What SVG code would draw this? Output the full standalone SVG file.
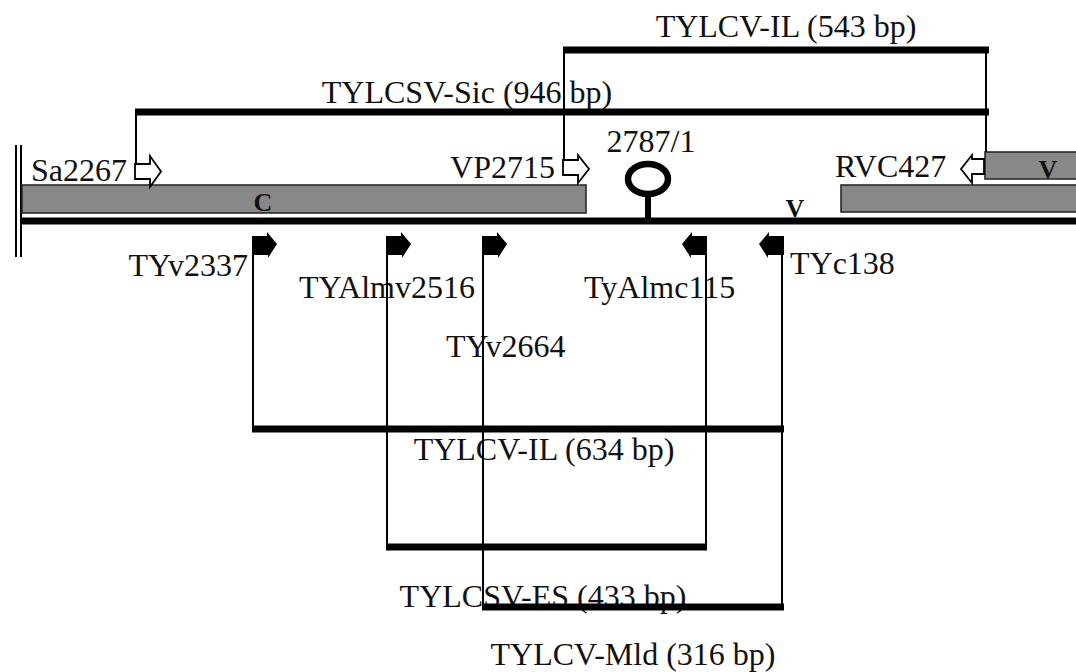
<svg xmlns="http://www.w3.org/2000/svg" width="1076" height="672" viewBox="0 0 1076 672">
<style>
text{font-family:"Liberation Serif","Times New Roman",serif;fill:#111;}
.lbl{font-size:32px;}
.big{font-size:32px;}
.gene{font-size:26px;font-weight:bold;}
.bar{fill:#888;stroke:#2a2a2a;stroke-width:1.6;}
.thin{stroke:#000;stroke-width:2;fill:none;}
.thick{stroke:#000;stroke-width:7;fill:none;}
.hollow{fill:#fff;stroke:#000;stroke-width:1.8;stroke-linejoin:miter;}
.solid{fill:#000;}
</style>
<rect width="1076" height="672" fill="#fff"/>
<g id="genome">
  <line x1="16" y1="145" x2="16" y2="257" class="thin" stroke-width="2.5"/>
  <line x1="21" y1="145" x2="21" y2="257" class="thin" stroke-width="2.5"/>
  <rect x="22" y="185" width="564" height="28" class="bar"/>
  <text x="263" y="211" class="gene" text-anchor="middle">C</text>
  <rect x="841" y="185" width="240" height="27" class="bar"/>
  <rect x="985" y="152" width="96" height="27" class="bar"/>
  <text x="1048" y="178" class="gene" text-anchor="middle">V</text>
  <line x1="22" y1="221" x2="1076" y2="221" class="thick"/>
  <text x="795" y="217" class="gene" text-anchor="middle">V</text>
</g>
<g id="stemloop">
  <ellipse cx="648" cy="179" rx="20" ry="15" fill="none" stroke="#000" stroke-width="6.5"/>
  <line x1="648" y1="194" x2="648" y2="219" stroke="#000" stroke-width="6"/>
  <text x="651" y="152" class="lbl" text-anchor="middle">2787/1</text>
</g>
<g id="Sa2267">
  <path d="M135,164 H150 V156 L161,171.5 L150,187 V179 H135 Z" class="hollow"/>
  <text x="31" y="181" class="lbl">Sa2267</text>
</g>
<g id="VP2715">
  <path d="M563,160 H578 V155 L589,169 L578,183 V175 H563 Z" class="hollow"/>
  <text x="555" y="178" class="lbl" text-anchor="end">VP2715</text>
</g>
<g id="RVC427">
  <path d="M984,159 H972 V155 L961,169 L972,183 V174 H984 Z" class="hollow"/>
  <text x="835" y="177" class="lbl">RVC427</text>
</g>
<g id="TYv2337">
  <path d="M252,236 H267 V232 L277,244 L268,258 V255 H252 Z" class="solid"/>
  <text x="248" y="276" class="lbl" text-anchor="end">TYv2337</text>
</g>
<g id="TYAlmv2516">
  <path d="M386,236 H401 V232 L411,244 L402,258 V255 H386 Z" class="solid"/>
  <text x="299" y="298" class="lbl">TYAlmv2516</text>
</g>
<g id="TYv2664">
  <path d="M482,236 H497 V232 L507,244 L498,258 V255 H482 Z" class="solid"/>
  <text x="446" y="357" class="lbl">TYv2664</text>
</g>
<g id="TyAlmc115">
  <path d="M707,236 H692 V232 L682,244 L691,258 V255 H707 Z" class="solid"/>
  <text x="584" y="298" class="lbl">TyAlmc115</text>
</g>
<g id="TYc138">
  <path d="M784,236 H769 V232 L759,244 L768,258 V255 H784 Z" class="solid"/>
  <text x="790" y="274" class="lbl">TYc138</text>
</g>
<g id="amplicon-labels">
  <text x="786" y="37" class="big" text-anchor="middle">TYLCV-IL (543 bp)</text>
  <text x="467" y="103" class="big" text-anchor="middle">TYLCSV-Sic (946 bp)</text>
  <text x="544" y="460" class="big" text-anchor="middle">TYLCV-IL (634 bp)</text>
  <text x="543" y="607" class="big" text-anchor="middle">TYLCSV-ES (433 bp)</text>
  <text x="633" y="665" class="big" text-anchor="middle">TYLCV-Mld (316 bp)</text>
</g>
<g id="connectors">
  <line x1="564" y1="50" x2="564" y2="161" class="thin"/>
  <line x1="986" y1="50" x2="986" y2="152" class="thin"/>
  <line x1="136" y1="112" x2="136" y2="164" class="thin"/>
  <line x1="253" y1="255" x2="253" y2="429" class="thin"/>
  <line x1="387" y1="255" x2="387" y2="547" class="thin"/>
  <line x1="483" y1="255" x2="483" y2="607" class="thin"/>
  <line x1="706" y1="255" x2="706" y2="547" class="thin"/>
  <line x1="782" y1="255" x2="782" y2="607" class="thin"/>
  <line x1="563" y1="50" x2="989" y2="50" class="thick"/>
  <line x1="135" y1="112" x2="989" y2="112" class="thick"/>
  <line x1="252" y1="429" x2="784" y2="429" class="thick"/>
  <line x1="386" y1="547" x2="707" y2="547" class="thick"/>
  <line x1="482" y1="607" x2="784" y2="607" class="thick"/>
</g>
</svg>
